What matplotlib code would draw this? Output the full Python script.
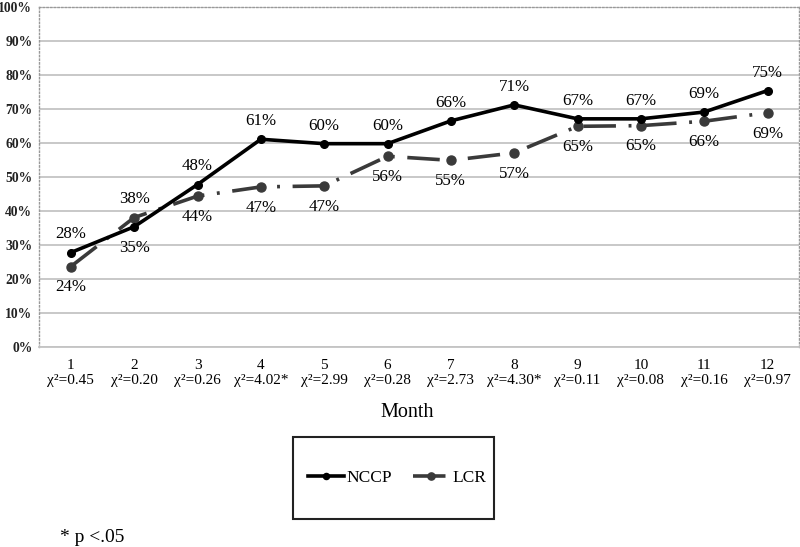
import matplotlib.pyplot as plt
from matplotlib.patches import Rectangle
from matplotlib.ticker import PercentFormatter

months = [1, 2, 3, 4, 5, 6, 7, 8, 9, 10, 11, 12]
chi_sq = ["0.45", "0.20", "0.26", "4.02*", "2.99", "0.28",
          "2.73", "4.30*", "0.11", "0.08", "0.16", "0.97"]
nccp = [0.277, 0.353, 0.477, 0.610, 0.597, 0.597,
        0.664, 0.711, 0.670, 0.670, 0.690, 0.753]
lcr = [0.236, 0.380, 0.443, 0.470, 0.473, 0.560,
       0.548, 0.570, 0.648, 0.650, 0.663, 0.688]

plt.rcParams["font.family"] = ["Liberation Serif", "DejaVu Serif"]

fig = plt.figure(figsize=(8, 5.47), dpi=100)
ax = fig.add_axes([0.049, 0.366, 0.950, 0.622])

x = list(range(len(months)))
ax.plot(x, nccp, color="black", lw=2.6, marker="o", ms=5.5, label="NCCP", zorder=4)
ax.plot(x, lcr, color="#3a3a3a", lw=2.6, marker="o", ms=6.5, label="LCR",
        dashes=[9, 3.5, 0.8, 3.5], zorder=3)

# data labels: NCCP above, LCR below, except month 2 where they swap
for i in x:
    if i == 1:
        n_off, l_off = -15, 13
    else:
        n_off, l_off = 13, -15
    ax.annotate(f"{nccp[i]*100:.0f}%", (i, nccp[i]), xytext=(0, n_off),
                textcoords="offset points", ha="center", va="center", fontsize=12.2)
    ax.annotate(f"{lcr[i]*100:.0f}%", (i, lcr[i]), xytext=(0, l_off),
                textcoords="offset points", ha="center", va="center", fontsize=12.2)

ax.set_xlim(-0.5, len(months) - 0.5)
ax.set_ylim(0, 1)
ax.set_yticks([i / 10 for i in range(11)])
ax.yaxis.set_major_formatter(PercentFormatter(1.0, decimals=0))
ax.tick_params(axis="y", length=0, pad=5, labelsize=9.8, labelcolor="#222222")
for lab in ax.get_yticklabels():
    lab.set_fontweight("bold")

ax.set_xticks(x)
ax.set_xticklabels([f"{m}\nχ²={c}" for m, c in zip(months, chi_sq)], fontsize=11,
                   linespacing=1.15)
ax.tick_params(axis="x", length=0, pad=9)

ax.grid(axis="y", color="#c4c4c4", lw=1.3)
ax.set_axisbelow(True)
for side in ["left", "top", "right"]:
    ax.spines[side].set_color("#999999")
    ax.spines[side].set_linestyle(":")
    ax.spines[side].set_linewidth(1)
ax.spines["bottom"].set_color("#c4c4c4")
ax.spines["bottom"].set_linewidth(1.3)

fig.text(0.509, 0.245, "Month", ha="center", va="center", fontsize=14.5)

fig.patches.append(Rectangle((0.366, 0.051), 0.251, 0.150, transform=fig.transFigure,
                             fill=False, edgecolor="#222222", lw=1.5))
fig.legend(loc="center", bbox_to_anchor=(0.496, 0.126), ncol=2, frameon=False,
           fontsize=12.5, handlelength=2.1, columnspacing=1.2, handletextpad=0.15,
           markerscale=0.8)

fig.text(0.075, 0.018, "* p <.05", ha="left", va="center", fontsize=14)

fig.savefig("out.png", dpi=100)
